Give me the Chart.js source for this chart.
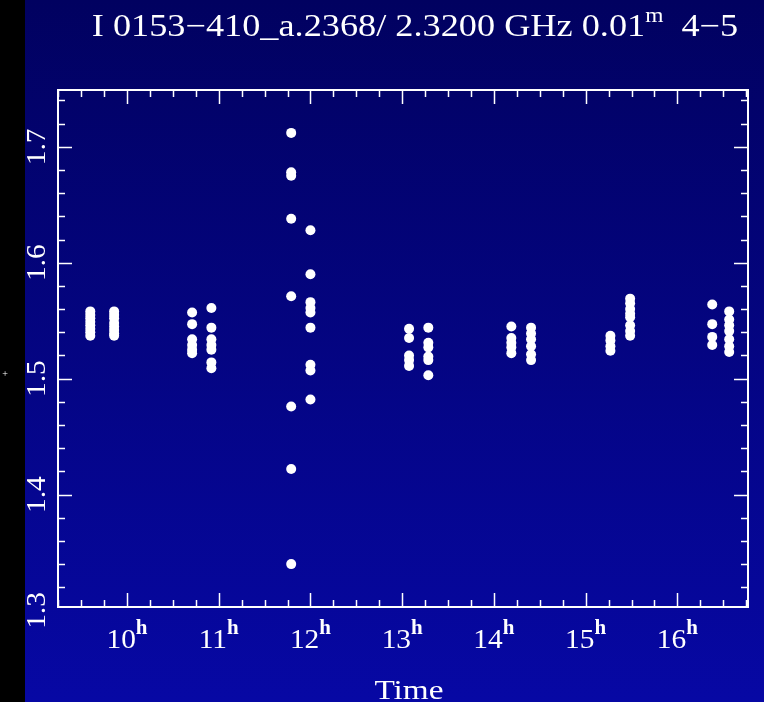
<!DOCTYPE html>
<html>
<head>
<meta charset="utf-8">
<script src="https://cdn.jsdelivr.net/npm/chart.js@4/dist/chart.umd.min.js"></script>
<style>
html,body{margin:0;padding:0;background:#000;}
#wrap{width:764px;height:702px;position:relative;}
canvas{display:block;}
</style>
</head>
<body>
<div id="wrap"><canvas id="c" width="764" height="702"></canvas></div>
<script>
// ---- data (hours UT, amplitude) ----
const scanTimes = [9.60, 9.86, 10.71, 10.92, 11.79, 12.00, 13.075, 13.285, 14.19, 14.405, 15.27, 15.485, 16.38, 16.565];
const scanValues = [
  [1.558, 1.555, 1.552, 1.549, 1.546, 1.543, 1.540, 1.537],
  [1.558, 1.555, 1.552, 1.548, 1.545, 1.542, 1.539, 1.537],
  [1.557, 1.547, 1.534, 1.529, 1.525, 1.522],
  [1.561, 1.544, 1.534, 1.529, 1.525, 1.514, 1.509],
  [1.712, 1.678, 1.675, 1.638, 1.571, 1.476, 1.422, 1.340],
  [1.628, 1.590, 1.566, 1.561, 1.557, 1.544, 1.512, 1.507, 1.482],
  [1.543, 1.535, 1.520, 1.516, 1.511],
  [1.544, 1.531, 1.527, 1.519, 1.516, 1.503],
  [1.545, 1.535, 1.531, 1.527, 1.522],
  [1.544, 1.539, 1.534, 1.528, 1.521, 1.516],
  [1.537, 1.533, 1.528, 1.524],
  [1.569, 1.565, 1.560, 1.556, 1.553, 1.546, 1.541, 1.537],
  [1.564, 1.547, 1.536, 1.529],
  [1.558, 1.551, 1.546, 1.541, 1.534, 1.528, 1.523]
];
const xTickHours = [10, 11, 12, 13, 14, 15, 16];
const yTickLabels = ["1.3", "1.4", "1.5", "1.6", "1.7"];
const titleMain = "I 0153\u2212410_a.2368/ 2.3200 GHz 0.01";
const titleSup = "m";
const titleTail = "  4\u22125";
const xAxisTitle = "Time";

const points = [];
scanTimes.forEach((t, i) => scanValues[i].forEach(v => points.push({x: t, y: v})));

const SERIF = '"Liberation Serif", "DejaVu Serif", serif';

const framePlugin = {
  id: 'frame',
  beforeDraw(chart) {
    const ctx = chart.ctx;
    const g = ctx.createLinearGradient(0, 0, 0, chart.height);
    g.addColorStop(0, '#010160');
    g.addColorStop(1, '#0708a4');
    ctx.save();
    ctx.fillStyle = g;
    ctx.fillRect(0, 0, chart.width, chart.height);
    ctx.fillStyle = '#000';
    ctx.fillRect(0, 0, 25, chart.height);
    ctx.restore();
  },
  afterDraw(chart) {
    const ctx = chart.ctx;
    const a = chart.chartArea;
    const xs = chart.scales.x, ys = chart.scales.y;
    ctx.save();
    ctx.strokeStyle = '#fff';
    ctx.fillStyle = '#fff';
    ctx.lineWidth = 2;
    ctx.strokeRect(a.left, a.top, a.right - a.left, a.bottom - a.top);
    ctx.beginPath();
    for (let k = 0; k <= 30; k++) {
      const v = 1.30 + k * 0.02;
      if (v < ys.min || v > ys.max) continue;
      const p = Math.round(ys.getPixelForValue(v)) + 0.5;
      const L = k % 5 === 0 ? 14 : 7;
      ctx.moveTo(a.left, p); ctx.lineTo(a.left + L, p);
      ctx.moveTo(a.right, p); ctx.lineTo(a.right - L, p);
    }
    for (let k = 0; k <= 40; k++) {
      const v = 9 + k * 0.25;
      if (v < xs.min || v > xs.max) continue;
      const p = Math.round(xs.getPixelForValue(v)) + 0.5;
      const L = k % 4 === 0 ? 14 : 7;
      ctx.moveTo(p, a.bottom); ctx.lineTo(p, a.bottom - L);
      ctx.moveTo(p, a.top); ctx.lineTo(p, a.top + L);
    }
    ctx.lineWidth = 1.5;
    ctx.stroke();

    // x tick labels with superscript h
    ctx.textBaseline = 'alphabetic';
    ctx.textAlign = 'left';
    xTickHours.forEach(h => {
      const p = xs.getPixelForValue(h);
      ctx.font = '28px ' + SERIF;
      const w1 = ctx.measureText(String(h)).width * 1.05;
      ctx.font = 'bold 21px ' + SERIF;
      const w2 = ctx.measureText('h').width;
      const x0 = p - (w1 + w2) / 2;
      ctx.save();
      ctx.translate(x0, 648);
      ctx.scale(1.05, 1);
      ctx.font = '28px ' + SERIF;
      ctx.fillText(String(h), 0, 0);
      ctx.restore();
      ctx.font = 'bold 21px ' + SERIF;
      ctx.fillText('h', x0 + w1, 634);
    });

    // y tick labels, rotated
    ctx.font = '28px ' + SERIF;
    ctx.textAlign = 'center';
    yTickLabels.forEach(s => {
      const p = ys.getPixelForValue(parseFloat(s));
      ctx.save();
      ctx.translate(45, p);
      ctx.rotate(-Math.PI / 2);
      ctx.scale(1.05, 1);
      ctx.fillText(s, 0, 0);
      ctx.restore();
    });

    ctx.font = '10px ' + SERIF;
    ctx.fillText('+', 5, 377);

    // axis title (wide lettering)
    ctx.save();
    ctx.font = '28px ' + SERIF;
    ctx.textAlign = 'center';
    ctx.translate(409, 699);
    ctx.scale(1.19, 1);
    ctx.fillText(xAxisTitle, 0, 0);
    ctx.restore();

    // main title (wide lettering)
    const sx = 1.17;
    ctx.textAlign = 'left';
    ctx.font = '31px ' + SERIF;
    const wm = ctx.measureText(titleMain).width;
    ctx.font = '20px ' + SERIF;
    const ws = ctx.measureText(titleSup).width;
    ctx.font = '31px ' + SERIF;
    const wt = ctx.measureText(titleTail).width;
    const total = (wm + ws + wt) * sx;
    ctx.save();
    ctx.translate(415 - total / 2, 36);
    ctx.scale(sx, 1);
    ctx.fillText(titleMain, 0, 0);
    ctx.font = '20px ' + SERIF;
    ctx.fillText(titleSup, wm, -14);
    ctx.font = '31px ' + SERIF;
    ctx.fillText(titleTail, wm + ws, 0);
    ctx.restore();
    ctx.restore();
  }
};

new Chart(document.getElementById('c'), {
  type: 'scatter',
  data: {
    datasets: [{
      data: points,
      backgroundColor: '#ffffff',
      borderWidth: 0,
      pointRadius: 5,
      pointHoverRadius: 5
    }]
  },
  options: {
    responsive: false,
    animation: false,
    events: [],
    layout: { padding: { left: 58, top: 90, right: 16, bottom: 95 } },
    plugins: { legend: { display: false }, tooltip: { enabled: false }, title: { display: false } },
    scales: {
      x: { type: 'linear', min: 9.248, max: 16.77, display: false },
      y: { type: 'linear', min: 1.303, max: 1.749, display: false }
    }
  },
  plugins: [framePlugin]
});
</script>
</body>
</html>
